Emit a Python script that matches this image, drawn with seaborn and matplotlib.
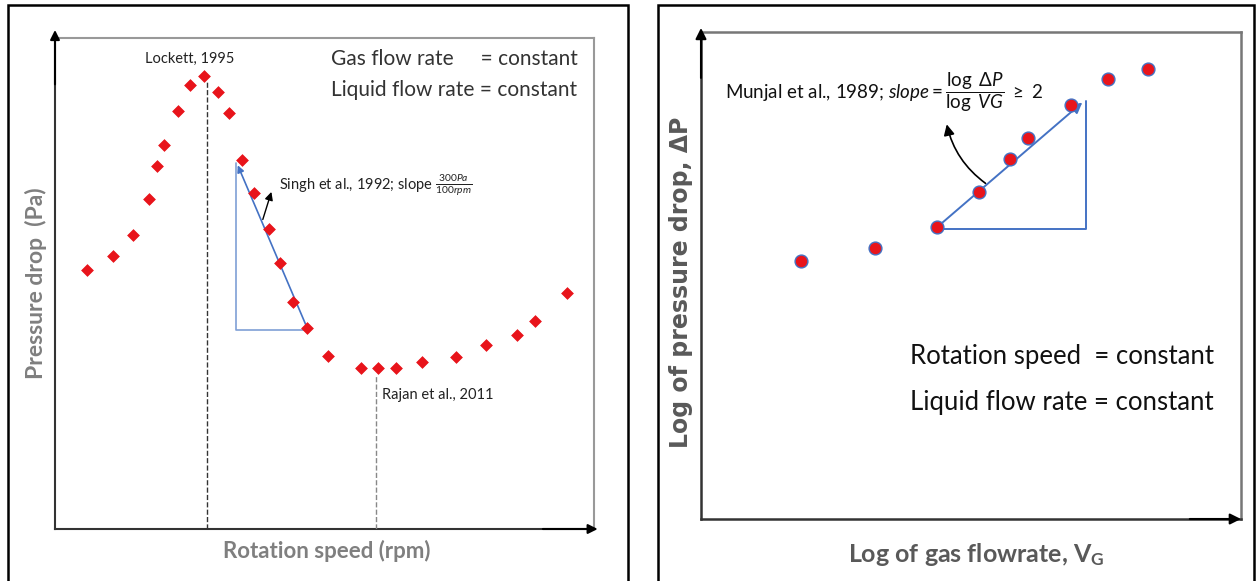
import numpy as np
import pandas as pd
import matplotlib
matplotlib.use("Agg")
import matplotlib.pyplot as plt
import seaborn as sns
from matplotlib.patches import Rectangle

# ---------------- data (arbitrary units) ----------------
rot_speed = [6.0, 10.8, 14.5, 17.4, 19.0, 20.2, 22.8, 25.1, 27.7, 30.3, 32.2, 34.7,
             37.0, 39.7, 41.7, 44.1, 46.8, 50.7, 56.7, 60.0, 63.2, 68.1, 74.4, 79.9,
             85.7, 89.1, 95.0]
pressure_drop = [52.8, 55.6, 59.9, 67.2, 74.0, 78.3, 85.2, 90.4, 92.3, 89.1, 84.7, 75.2,
                 68.4, 61.1, 54.2, 46.2, 40.9, 35.3, 32.7, 32.7, 32.7, 34.0, 35.1, 37.4,
                 39.6, 42.3, 48.1]
log_gas_flow = [18.5, 32.3, 43.7, 51.4, 57.2, 60.6, 68.5, 75.4, 82.8]
log_pressure = [53.0, 55.7, 59.9, 67.1, 73.9, 78.2, 85.0, 90.4, 92.3]

lockett_x = 28.2
rajan_x = 59.6

sns.set_style("white")
plt.rcParams['font.family'] = ['Lato', 'DejaVu Sans']
plt.rcParams['mathtext.fontset'] = 'custom'
plt.rcParams['mathtext.rm'] = 'Lato'
plt.rcParams['mathtext.it'] = 'Lato:italic'
plt.rcParams['mathtext.bf'] = 'Lato:bold'

W, H = 1259, 581
fig = plt.figure(figsize=(W / 100, H / 100), dpi=100)
fig.patch.set_facecolor('white')

def rect(x0, y0, x1, y1):
    return [x0 / W, 1 - y1 / H, (x1 - x0) / W, (y1 - y0) / H]

# outer panel borders
for (x0, x1) in [(7.5, 628), (657.5, 1254)]:
    fig.add_artist(Rectangle((x0 / W, -0.05), (x1 - x0) / W, 1.05 - 5 / H,
                             transform=fig.transFigure, fill=False,
                             edgecolor='black', linewidth=1.8))

blue = '#4472C4'
red = '#E8141B'

# ---------------- left panel ----------------
ax1 = fig.add_axes(rect(55, 38, 594, 529))
df1 = pd.DataFrame({'speed': rot_speed, 'dp': pressure_drop})
sns.scatterplot(data=df1, x='speed', y='dp', ax=ax1, marker='D', s=36,
                color=red, edgecolor=red, linewidth=0.5, zorder=5)
ax1.set_xlim(0, 100)
ax1.set_ylim(0, 100)
ax1.set_xticks([])
ax1.set_yticks([])
for s in ['top', 'right']:
    ax1.spines[s].set_color('#999999')
    ax1.spines[s].set_linewidth(1.5)
for s in ['left', 'bottom']:
    ax1.spines[s].set_color('#333333')
    ax1.spines[s].set_linewidth(1.5)
ax1.annotate('', xy=(0, 1.022), xytext=(0, 0.9), xycoords='axes fraction',
             arrowprops=dict(arrowstyle='-|>', color='black', lw=1.5, mutation_scale=14),
             annotation_clip=False)
ax1.annotate('', xy=(1.012, 0), xytext=(0.9, 0), xycoords='axes fraction',
             arrowprops=dict(arrowstyle='-|>', color='black', lw=1.5, mutation_scale=14),
             annotation_clip=False)

ax1.plot([lockett_x, lockett_x], [0, 91.3], ls='--', color='#333333', lw=1.0, zorder=3)
ax1.plot([rajan_x, rajan_x], [0, 31.2], ls='--', color='#888888', lw=1.0, zorder=3)

# slope triangle
ax1.plot([33.6, 33.6, 46.8], [74.5, 40.5, 40.5], color='#7f9fd6', lw=1.2, zorder=4)
ax1.annotate('', xy=(33.7, 74.6), xytext=(46.8, 40.9),
             arrowprops=dict(arrowstyle='-|>', color=blue, lw=1.2, mutation_scale=10),
             zorder=4)
ax1.annotate('', xy=(40.3, 69.2), xytext=(38.4, 62.5),
             arrowprops=dict(arrowstyle='-|>', color='black', lw=1.0, mutation_scale=12),
             zorder=6)

ax1.text(25.0, 95.7, 'Lockett, 1995', ha='center', va='center', fontsize=10.5, color='#222222')
ax1.text(51.2, 95.7, 'Gas flow rate     = constant', ha='left', va='center',
         fontsize=15, color='#333333')
ax1.text(51.2, 89.4, 'Liquid flow rate = constant', ha='left', va='center',
         fontsize=15, color='#333333')
ax1.text(41.5, 70.0, r'Singh et al., 1992; slope $\frac{300Pa}{100rpm}$', ha='left',
         va='center', fontsize=10.5, color='#222222')
ax1.text(60.6, 27.2, 'Rajan et al., 2011', ha='left', va='center', fontsize=10.5,
         color='#222222')

ax1.set_xlabel('Rotation speed (rpm)', fontsize=16, fontweight='bold', color='#7f7f7f')
ax1.set_ylabel('Pressure drop  (Pa)', fontsize=16.5, fontweight='bold', color='#7f7f7f')
ax1.xaxis.set_label_coords(0.505, -0.022)
ax1.yaxis.set_label_coords(-0.014, 0.5)

# ---------------- right panel ----------------
ax2 = fig.add_axes(rect(701, 32, 1241, 519))
df2 = pd.DataFrame({'lg': log_gas_flow, 'lp': log_pressure})
sns.scatterplot(data=df2, x='lg', y='lp', ax=ax2, marker='o', s=85,
                color=red, edgecolor=blue, linewidth=1.0, zorder=5)
ax2.set_xlim(0, 100)
ax2.set_ylim(0, 100)
ax2.set_xticks([])
ax2.set_yticks([])
for s in ['top', 'right']:
    ax2.spines[s].set_color('#777777')
    ax2.spines[s].set_linewidth(1.8)
for s in ['left', 'bottom']:
    ax2.spines[s].set_color('#333333')
    ax2.spines[s].set_linewidth(1.8)
ax2.annotate('', xy=(0, 1.014), xytext=(0, 0.9), xycoords='axes fraction',
             arrowprops=dict(arrowstyle='-|>', color='black', lw=1.5, mutation_scale=16),
             annotation_clip=False)
ax2.annotate('', xy=(1.005, 0), xytext=(0.9, 0), xycoords='axes fraction',
             arrowprops=dict(arrowstyle='-|>', color='black', lw=1.5, mutation_scale=16),
             annotation_clip=False)

ax2.plot([43.7, 71.3, 71.3], [59.5, 59.5, 85.9], color=blue, lw=1.4, zorder=4)
ax2.annotate('', xy=(71.0, 85.9), xytext=(43.7, 59.9),
             arrowprops=dict(arrowstyle='-|>', color=blue, lw=1.4, mutation_scale=16),
             zorder=4)
ax2.annotate('', xy=(45.4, 81.6), xytext=(53.1, 68.6),
             arrowprops=dict(arrowstyle='-|>', color='black', lw=1.2, mutation_scale=16,
                             connectionstyle='arc3,rad=-0.2'),
             zorder=6)

ax2.text(4.4, 87.6, r'Munjal et al., 1989; $\mathit{slope} = \dfrac{\log\ \Delta P}{\log\ VG}\ \geq\ 2$',
         ha='left', va='center', fontsize=13.5, color='#111111')
ax2.text(38.7, 33.3, 'Rotation speed  = constant', ha='left', va='center', fontsize=18.5,
         color='#111111')
ax2.text(38.7, 24.0, 'Liquid flow rate = constant', ha='left', va='center', fontsize=18.5,
         color='#111111')

ax2.set_xlabel(r'Log of gas flowrate, V$_\mathbf{G}$', fontsize=18, fontweight='bold',
               color='#595959')
ax2.set_ylabel('Log of pressure drop, ΔP', fontsize=17, fontweight='bold', color='#595959',
               family='DejaVu Sans')
ax2.xaxis.set_label_coords(0.509, -0.046)
ax2.yaxis.set_label_coords(-0.015, 0.485)

fig.savefig('out.png', dpi=100, facecolor='white')
